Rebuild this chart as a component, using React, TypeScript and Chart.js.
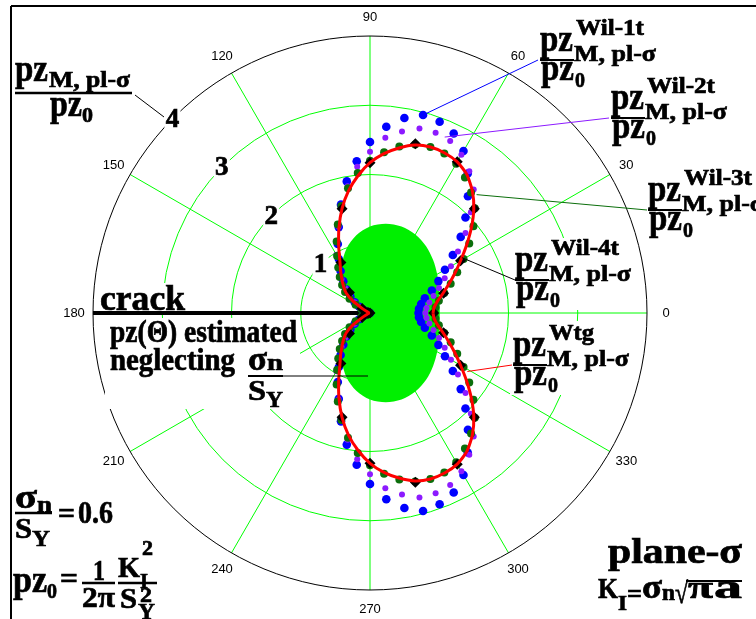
import React, { useEffect, useRef } from "react";
import { Chart, registerables } from "chart.js";

Chart.register(...registerables);

// ---- data (polar: angle in degrees, radius in units of pz0); curves are symmetric about 0° ----
const ANGLES_5 = [0, 5, 10, 15, 20, 25, 30, 35, 40, 45, 50, 55, 60, 65, 70, 75, 80, 85, 90, 95, 100, 105, 110, 115, 120, 125, 130, 135, 140, 145, 150, 155, 160, 165, 170, 175, 180];
const ANGLES_10 = [0, 10, 20, 30, 40, 50, 60, 70, 80, 90, 100, 110, 120, 130, 140, 150, 160, 170, 180];
const ANGLES_15 = [0, 15, 30, 45, 60, 75, 90, 105, 120, 135, 150, 165, 180];

const R_WIL_1T = [0.70, 0.71, 0.75, 0.82, 0.95, 1.09, 1.25, 1.46, 1.71, 1.95, 2.20, 2.46, 2.70, 2.86, 2.94, 2.96, 2.86, 2.70, 2.47, 2.20, 1.93, 1.62, 1.32, 1.10, 0.90, 0.74, 0.60, 0.48, 0.37, 0.27, 0.18, 0.11, 0.06, 0.03, 0.02, 0.01, 0.0];
const R_WIL_2T = [0.80, 0.82, 0.87, 0.95, 1.06, 1.19, 1.35, 1.55, 1.80, 2.06, 2.33, 2.50, 2.64, 2.74, 2.77, 2.76, 2.66, 2.54, 2.33, 2.12, 1.86, 1.58, 1.33, 1.14, 0.97, 0.80, 0.64, 0.50, 0.38, 0.27, 0.18, 0.11, 0.06, 0.03, 0.02, 0.01, 0.0];
const R_WIL_3T = [0.93, 0.95, 1.01, 1.11, 1.24, 1.39, 1.56, 1.75, 1.95, 2.14, 2.27, 2.39, 2.49, 2.54, 2.55, 2.52, 2.44, 2.33, 2.20, 2.03, 1.83, 1.60, 1.36, 1.14, 0.95, 0.80, 0.68, 0.57, 0.47, 0.36, 0.24, 0.14, 0.07, 0.04, 0.02, 0.01, 0.01];
const R_WIL_4T = [0.92, 1.10, 1.51, 2.13, 2.52, 2.53, 2.17, 1.56, 0.84, 0.42, 0.13, 0.03, 0.0];
const R_WTG = [0.91, 0.93, 0.99, 1.09, 1.21, 1.35, 1.51, 1.70, 1.91, 2.12, 2.30, 2.44, 2.52, 2.55, 2.55, 2.51, 2.42, 2.31, 2.17, 1.99, 1.79, 1.56, 1.31, 1.07, 0.87, 0.74, 0.63, 0.54, 0.45, 0.30, 0.12, 0.05, 0.03, 0.02, 0.02, 0.02, 0.02];
const R_NEGLECT = [1.00, 1.02, 1.06, 1.12, 1.19, 1.26, 1.31, 1.33, 1.31, 1.25, 1.14, 0.99, 0.81, 0.62, 0.43, 0.25, 0.12, 0.03, 0.0];

const ANGLE_TICKS = [0, 30, 60, 90, 120, 150, 180, 210, 240, 270, 300, 330];
const RADIAL_TICKS = [1, 2, 3, 4];
const R_MAX = 4;

const SERIF = '"Liberation Serif","Times New Roman",serif';
const SANS = '"Liberation Sans",Arial,sans-serif';

function toXY(deg: number, r: number) {
  const a = (deg * Math.PI) / 180;
  return { x: r * Math.cos(a), y: r * Math.sin(a) };
}

// build full 0..360 from the upper half (mirror)
function mirrored(angles: number[], radii: number[], closed: boolean) {
  const pts: { x: number; y: number }[] = [];
  angles.forEach((a, i) => pts.push(toXY(a, radii[i])));
  for (let i = angles.length - 2; i >= (closed ? 0 : 1); i--) pts.push(toXY(360 - angles[i], radii[i]));
  return pts;
}

function T(ctx: CanvasRenderingContext2D, s: string, x: number, y: number, size: number, w?: number) {
  ctx.font = `bold ${size}px ${SERIF}`;
  ctx.textAlign = "left";
  ctx.textBaseline = "alphabetic";
  ctx.save();
  ctx.translate(x, y);
  if (w) {
    const m = ctx.measureText(s).width || 1;
    ctx.scale(w / m, 1);
  }
  ctx.fillText(s, 0, 0);
  ctx.strokeStyle = ctx.fillStyle as string;
  ctx.lineWidth = 0.7;
  ctx.strokeText(s, 0, 0);
  ctx.restore();
}

function L(ctx: CanvasRenderingContext2D, x1: number, y1: number, x2: number, y2: number, color: string, lw: number) {
  ctx.strokeStyle = color;
  ctx.lineWidth = lw;
  ctx.beginPath();
  ctx.moveTo(x1, y1);
  ctx.lineTo(x2, y2);
  ctx.stroke();
}

function fracLabel(ctx: CanvasRenderingContext2D, x0: number, bar: number, sup: string) {
  ctx.fillStyle = "#000";
  T(ctx, "pz", x0, bar - 9, 37, 33);
  T(ctx, sup, x0 + 36, bar - 25, 23, sup === "Wtg" ? 45 : 68);
  T(ctx, "M, pl-σ", x0 + 34, bar + 1, 24, 82);
  L(ctx, x0, bar, x0 + 34, bar, "#000", 2);
  T(ctx, "pz", x0 + 1, bar + 20, 37, 33);
  T(ctx, "0", x0 + 35, bar + 27, 22, 10);
}

const decoPlugin = {
  id: "deco",
  beforeDatasetsDraw(chart: any) {
    const ctx: CanvasRenderingContext2D = chart.ctx;
    const xs = chart.scales.x;
    const ys = chart.scales.y;
    const cx = xs.getPixelForValue(0);
    const cy = ys.getPixelForValue(0);
    const rad = (r: number) => xs.getPixelForValue(r) - cx;
    const P = (r: number, deg: number) => {
      const p = toXY(deg, r);
      return [xs.getPixelForValue(p.x), ys.getPixelForValue(p.y)];
    };
    ctx.save();
    // frame
    L(ctx, 11, 6, 756, 6, "#000", 2);
    L(ctx, 11, 6, 11, 619, "#000", 2);
    // grid circles
    ctx.strokeStyle = "#00ff00";
    ctx.lineWidth = 1;
    RADIAL_TICKS.forEach((r) => {
      if (r >= R_MAX) return;
      ctx.beginPath();
      ctx.arc(cx, cy, rad(r), 0, Math.PI * 2);
      ctx.stroke();
    });
    ANGLE_TICKS.forEach((a) => {
      const [x, y] = P(R_MAX, a);
      L(ctx, cx, cy, x, y, "#00ff00", 1);
    });
    ctx.strokeStyle = "#000";
    ctx.lineWidth = 1;
    ctx.beginPath();
    ctx.arc(cx, cy, rad(R_MAX), 0, Math.PI * 2);
    ctx.stroke();
    // angle labels
    ctx.fillStyle = "#000";
    ctx.font = `13px ${SANS}`;
    ctx.textAlign = "center";
    ctx.textBaseline = "middle";
    ANGLE_TICKS.forEach((a) => {
      const rr = rad(R_MAX) + 19;
      const t = (a * Math.PI) / 180;
      ctx.fillText(String(a), cx + rr * Math.cos(t), cy - rr * Math.sin(t));
    });
    // white text boxes hiding the grid
    ctx.fillStyle = "#fff";
    ctx.fillRect(98, 283, 92, 28);
    ctx.fillRect(105, 318, 195, 91);
    ctx.fillRect(512, 238, 122, 72);
    ctx.fillRect(510, 321, 120, 74);
    // radial tick labels
    RADIAL_TICKS.forEach((r) => {
      const [x, y] = P(r, 135.5);
      ctx.fillStyle = "#fff";
      ctx.fillRect(x - 8, y - 11, 16, 22);
      ctx.fillStyle = "#000";
      ctx.font = `bold 27px ${SERIF}`;
      ctx.textAlign = "center";
      ctx.textBaseline = "middle";
      ctx.fillText(String(r), x, y + 1);
      ctx.strokeStyle = "#000";
      ctx.lineWidth = 0.7;
      ctx.strokeText(String(r), x, y + 1);
    });
    // crack
    const [x0, y0] = P(R_MAX, 180);
    L(ctx, x0, y0, cx - 3, cy, "#000", 4);
    ctx.restore();
  },
  afterDatasetsDraw(chart: any) {
    const ctx: CanvasRenderingContext2D = chart.ctx;
    const xs = chart.scales.x;
    const ys = chart.scales.y;
    const P = (r: number, deg: number) => {
      const p = toXY(deg, r);
      return [xs.getPixelForValue(p.x), ys.getPixelForValue(p.y)];
    };
    ctx.save();
    // leader lines
    let s = P(2.96, 75);
    L(ctx, s[0], s[1], 538, 60, "#0000ff", 1);
    s = P(2.76, 67);
    L(ctx, s[0], s[1], 609, 118, "#8c1aff", 1);
    s = P(2.3, 48);
    L(ctx, s[0], s[1], 647, 210, "#0b6e0b", 1);
    s = P(1.55, 31);
    L(ctx, s[0], s[1], 515, 280, "#000", 1);
    s = P(1.64, -31);
    L(ctx, s[0], s[1], 512, 365, "#ff0000", 1);
    L(ctx, 135, 95, 164, 117, "#000", 1);

    ctx.fillStyle = "#000";
    // top-left label
    T(ctx, "pz", 15, 81, 37, 33);
    T(ctx, "M, pl-σ", 49, 87, 24, 81);
    L(ctx, 15, 93, 132, 93, "#000", 2.5);
    T(ctx, "pz", 50, 116, 37, 32);
    T(ctx, "0", 82, 122, 22, 11);

    // right labels
    fracLabel(ctx, 540, 60, "Wil-1t");
    fracLabel(ctx, 611, 118, "Wil-2t");
    fracLabel(ctx, 648, 210, "Wil-3t");
    fracLabel(ctx, 515, 280, "Wil-4t");
    fracLabel(ctx, 513, 365, "Wtg");

    // crack + note
    ctx.fillStyle = "#000";
    T(ctx, "crack", 100, 310, 36, 85);
    T(ctx, "pz(Θ) estimated", 110, 342, 31, 187);
    T(ctx, "neglecting", 110, 370, 31, 125);
    T(ctx, "σ", 248, 370, 33, 19);
    T(ctx, "n", 267, 370, 24, 16);
    L(ctx, 248, 376, 283, 376, "#000", 2);
    L(ctx, 283, 376, 368, 376, "#000", 1);
    T(ctx, "S", 248, 400, 30, 18);
    T(ctx, "Y", 266, 407, 24, 17);

    // sigma_n / S_Y = 0.6
    T(ctx, "σ", 15, 508, 33, 22);
    T(ctx, "n", 37, 512, 24, 15);
    L(ctx, 15, 513, 52, 513, "#000", 2.5);
    T(ctx, "S", 15, 538, 30, 17);
    T(ctx, "Y", 32, 546, 24, 18);
    T(ctx, "=", 58, 523, 30, 17);
    T(ctx, "0.6", 78, 523, 32, 35);

    // pz0 = 1/(2π) K²/S²
    T(ctx, "pz", 13, 592, 37, 34);
    T(ctx, "0", 47, 598, 22, 10);
    T(ctx, "=", 60, 588, 30, 18);
    T(ctx, "1", 93, 580, 30, 12);
    L(ctx, 82, 583, 115, 583, "#000", 2.5);
    T(ctx, "2π", 82, 607, 30, 33);
    T(ctx, "K", 118, 577, 30, 22);
    T(ctx, "2", 142, 555, 22, 11);
    T(ctx, "I", 140, 588, 22, 8);
    L(ctx, 118, 583, 157, 583, "#000", 2.5);
    T(ctx, "S", 120, 608, 30, 17);
    T(ctx, "2", 140, 602, 22, 12);
    T(ctx, "Y", 138, 619, 24, 17);

    // plane-sigma
    T(ctx, "plane-σ", 608, 563, 35, 134);
    T(ctx, "K", 598, 598, 30, 20);
    T(ctx, "I", 618, 610, 22, 9);
    T(ctx, "=", 627, 603, 28, 15);
    T(ctx, "σ", 642, 598, 33, 20);
    T(ctx, "n", 662, 600, 24, 13);
    T(ctx, "√", 675, 603, 30, 13);
    L(ctx, 686, 581, 742, 581, "#000", 2);
    T(ctx, "π", 688, 598, 32, 25);
    T(ctx, "a", 714, 598, 33, 28);
    ctx.restore();
  },
};

export default function App() {
  const ref = useRef<HTMLCanvasElement | null>(null);
  useEffect(() => {
    if (!ref.current) return;
    const chart = new Chart(ref.current, {
      type: "scatter",
      data: {
        datasets: [
          {
            label: "Wtg",
            data: mirrored(ANGLES_5, R_WTG, true),
            showLine: true,
            borderColor: "#ff0000",
            borderWidth: 3,
            pointRadius: 0,
            tension: 0.2,
            fill: false,
          },
          {
            label: "Wil-4t",
            data: mirrored(ANGLES_15, R_WIL_4T, false),
            showLine: false,
            pointStyle: "rectRot",
            pointRadius: 5.5,
            backgroundColor: "#000",
            borderColor: "#000",
            borderWidth: 0,
          },
          {
            label: "Wil-3t",
            data: mirrored(ANGLES_5, R_WIL_3T, false),
            showLine: false,
            pointStyle: "circle",
            pointRadius: 4,
            backgroundColor: "#0b6e0b",
            borderColor: "#0b6e0b",
            borderWidth: 0,
          },
          {
            label: "Wil-2t",
            data: mirrored(ANGLES_5, R_WIL_2T, false),
            showLine: false,
            pointStyle: "circle",
            pointRadius: 3,
            backgroundColor: "#8c1aff",
            borderColor: "#8c1aff",
            borderWidth: 0,
          },
          {
            label: "Wil-1t",
            data: mirrored(ANGLES_5, R_WIL_1T, false),
            showLine: false,
            pointStyle: "circle",
            pointRadius: 4.3,
            backgroundColor: "#0000ff",
            borderColor: "#0000ff",
            borderWidth: 0,
          },
          {
            label: "neglecting",
            data: mirrored(ANGLES_10, R_NEGLECT, true),
            showLine: true,
            borderWidth: 0,
            borderColor: "rgba(0,0,0,0)",
            backgroundColor: "#00f000",
            pointRadius: 0,
            tension: 0.3,
            fill: "shape",
          },
        ],
      } as any,
      options: {
        animation: false,
        responsive: false,
        events: [],
        layout: { padding: { left: 93, right: 109, top: 36, bottom: 29 } },
        plugins: { legend: { display: false }, tooltip: { enabled: false } },
        scales: {
          x: { type: "linear", min: -R_MAX, max: R_MAX, display: false },
          y: { type: "linear", min: -R_MAX, max: R_MAX, display: false },
        },
      } as any,
      plugins: [decoPlugin],
    });
    return () => chart.destroy();
  }, []);
  return (
    <div style={{ position: "fixed", left: 0, top: 0, width: 756, height: 619, background: "#fff" }}>
      <canvas ref={ref} width={756} height={619} style={{ display: "block" }} />
    </div>
  );
}
